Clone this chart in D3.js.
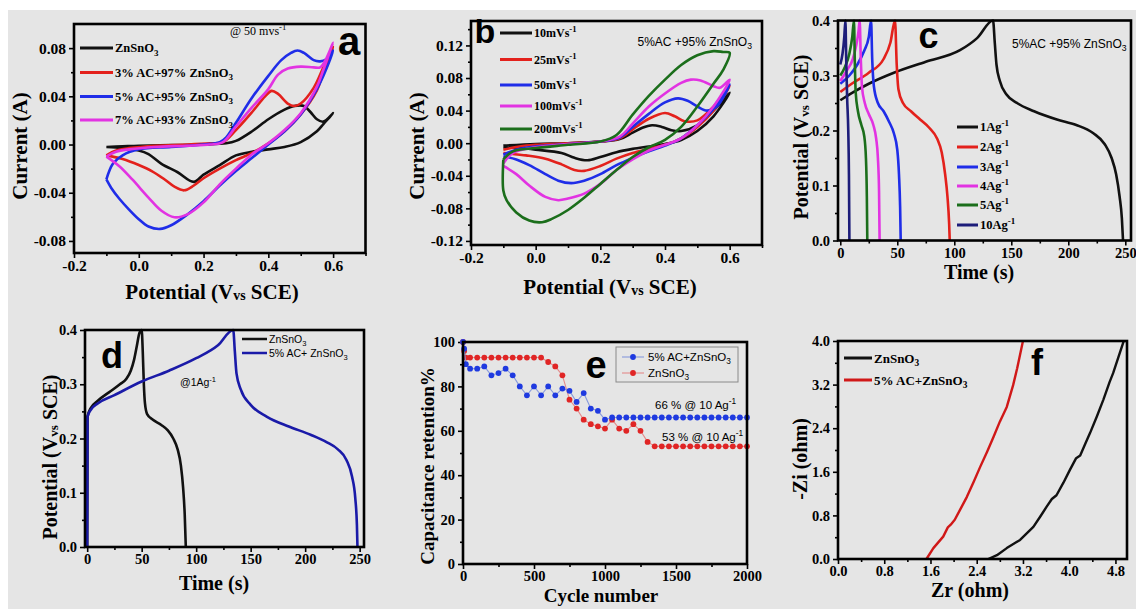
<!DOCTYPE html>
<html>
<head>
<meta charset="utf-8">
<script src="https://cdn.jsdelivr.net/npm/d3@7"></script>
<style>
  html, body { margin: 0; padding: 0; background: #fff; }
  svg { display: block; }
</style>
</head>
<body>
<script>
// ---------------------------------------------------------------
// (a) CV loops at 50 mV/s, [potential V, current A]
// ---------------------------------------------------------------
const cvA_labels = ["ZnSnO_{3}", "3% AC+97% ZnSnO_{3}", "5% AC+95% ZnSnO_{3}", "7% AC+93% ZnSnO_{3}"];
const cvA_ZnSnO3 = [
  [-0.1,-0.002],[-0.05,-0.0015],[0.0,-0.001],[0.1,-0.0005],[0.2,0.0],[0.27,0.001],[0.3,0.003],[0.35,0.011],
  [0.4,0.021],[0.45,0.029],[0.48,0.032],[0.51,0.032],[0.53,0.027],[0.55,0.021],[0.57,0.019],[0.6,0.026],
  [0.57,0.017],[0.55,0.011],[0.5,0.002],[0.45,-0.002],[0.4,-0.004],[0.35,-0.006],[0.3,-0.009],[0.25,-0.017],
  [0.2,-0.025],[0.17,-0.031],[0.12,-0.023],[0.07,-0.016],[0.03,-0.008],[0.0,-0.005],[-0.05,-0.003],[-0.1,-0.002]
];
const cvA_3AC = [
  [-0.1,-0.009],[-0.07,-0.005],[-0.03,-0.003],[0.05,-0.001],[0.15,0.0],[0.22,0.001],[0.26,0.002],[0.3,0.012],
  [0.35,0.027],[0.39,0.04],[0.41,0.0445],[0.43,0.042],[0.46,0.034],[0.48,0.032],[0.5,0.034],[0.54,0.047],
  [0.57,0.064],[0.6,0.081],
  [0.57,0.06],[0.55,0.045],[0.5,0.025],[0.45,0.011],[0.4,0.001],[0.35,-0.007],[0.3,-0.013],[0.25,-0.02],
  [0.2,-0.028],[0.17,-0.034],[0.14,-0.038],[0.11,-0.035],[0.08,-0.029],[0.04,-0.022],[0.0,-0.017],
  [-0.05,-0.012],[-0.1,-0.009]
];
const cvA_5AC = [
  [-0.1,-0.029],[-0.08,-0.016],[-0.05,-0.009],[0.0,-0.004],[0.1,-0.002],[0.2,0.0],[0.25,0.002],[0.27,0.006],
  [0.3,0.018],[0.35,0.039],[0.4,0.057],[0.44,0.07],[0.47,0.076],[0.49,0.078],[0.51,0.076],[0.54,0.07],
  [0.56,0.069],[0.58,0.071],[0.6,0.078],
  [0.57,0.057],[0.55,0.046],[0.5,0.025],[0.45,0.011],[0.4,0.0],[0.35,-0.011],[0.3,-0.022],[0.25,-0.034],
  [0.2,-0.047],[0.15,-0.058],[0.1,-0.067],[0.066,-0.070],[0.03,-0.068],[0.0,-0.062],[-0.03,-0.054],
  [-0.06,-0.045],[-0.085,-0.036],[-0.1,-0.029]
];
const cvA_7AC = [
  [-0.1,-0.01],[-0.07,-0.006],[-0.03,-0.004],[0.05,-0.002],[0.15,-0.001],[0.22,0.0],[0.26,0.002],[0.3,0.015],
  [0.35,0.031],[0.4,0.046],[0.43,0.058],[0.46,0.063],[0.5,0.0646],[0.54,0.064],[0.56,0.064],[0.58,0.072],
  [0.6,0.0845],
  [0.57,0.062],[0.55,0.048],[0.5,0.026],[0.45,0.012],[0.4,0.001],[0.35,-0.008],[0.3,-0.02],[0.25,-0.033],
  [0.2,-0.048],[0.15,-0.058],[0.11,-0.0604],[0.07,-0.055],[0.03,-0.044],[-0.02,-0.029],[-0.06,-0.018],[-0.1,-0.01]
];

// ---------------------------------------------------------------
// (b) CV of 5% AC + 95% ZnSnO3 at several scan rates
// ---------------------------------------------------------------
const cvB_labels = ["10mVs^{-1}", "25mVs^{-1}", "50mVs^{-1}", "100mVs^{-1}", "200mVs^{-1}"];
const cvB_10 = [
  [-0.1,-0.003],[0.0,-0.001],[0.1,0.0],[0.2,0.002],[0.26,0.005],[0.3,0.013],[0.33,0.019],[0.36,0.022],
  [0.39,0.02],[0.42,0.016],[0.45,0.015],[0.5,0.022],[0.55,0.04],[0.6,0.062],
  [0.55,0.033],[0.5,0.015],[0.45,0.004],[0.4,-0.001],[0.35,-0.004],[0.3,-0.007],[0.25,-0.011],[0.2,-0.017],
  [0.16,-0.021],[0.12,-0.018],[0.08,-0.012],[0.0,-0.008],[-0.05,-0.006],[-0.1,-0.005]
];
const cvB_25 = [
  [-0.1,-0.008],[-0.05,-0.004],[0.0,-0.002],[0.1,0.0],[0.2,0.002],[0.26,0.006],[0.3,0.017],[0.35,0.03],
  [0.4,0.037],[0.43,0.033],[0.46,0.027],[0.5,0.028],[0.55,0.045],[0.6,0.07],
  [0.55,0.04],[0.5,0.02],[0.45,0.006],[0.4,-0.002],[0.35,-0.007],[0.3,-0.012],[0.25,-0.019],[0.2,-0.028],
  [0.15,-0.034],[0.12,-0.033],[0.08,-0.026],[0.03,-0.019],[-0.03,-0.015],[-0.1,-0.012]
];
const cvB_50 = [
  [-0.1,-0.014],[-0.05,-0.007],[0.0,-0.004],[0.1,-0.001],[0.2,0.002],[0.26,0.007],[0.3,0.02],[0.35,0.036],
  [0.4,0.05],[0.44,0.055],[0.47,0.052],[0.5,0.045],[0.53,0.04],[0.56,0.045],[0.6,0.072],
  [0.55,0.042],[0.5,0.022],[0.45,0.006],[0.4,-0.003],[0.35,-0.01],[0.3,-0.018],[0.25,-0.027],[0.2,-0.038],
  [0.15,-0.046],[0.11,-0.049],[0.07,-0.046],[0.03,-0.038],[-0.02,-0.027],[-0.06,-0.02],[-0.1,-0.016]
];
const cvB_100 = [
  [-0.1,-0.025],[-0.07,-0.012],[0.0,-0.005],[0.1,-0.001],[0.2,0.002],[0.26,0.008],[0.3,0.024],[0.35,0.045],
  [0.4,0.061],[0.45,0.074],[0.48,0.078],[0.51,0.077],[0.55,0.07],[0.57,0.068],[0.6,0.078],
  [0.55,0.045],[0.5,0.022],[0.45,0.006],[0.4,-0.002],[0.35,-0.009],[0.3,-0.02],[0.25,-0.033],[0.2,-0.05],
  [0.15,-0.062],[0.1,-0.068],[0.07,-0.07],[0.03,-0.066],[-0.02,-0.052],[-0.06,-0.038],[-0.1,-0.028]
];
const cvB_200 = [
  [-0.1,-0.02],[-0.07,-0.01],[0.0,-0.006],[0.1,-0.002],[0.2,0.002],[0.25,0.01],[0.3,0.035],[0.35,0.058],
  [0.4,0.078],[0.45,0.096],[0.5,0.108],[0.55,0.113],[0.58,0.112],[0.6,0.111],
  [0.58,0.09],[0.55,0.073],[0.5,0.045],[0.45,0.02],[0.4,0.004],[0.35,-0.005],[0.3,-0.017],[0.25,-0.033],
  [0.2,-0.05],[0.15,-0.067],[0.1,-0.082],[0.05,-0.093],[0.02,-0.097],[-0.02,-0.095],[-0.06,-0.085],
  [-0.09,-0.07],[-0.1,-0.058],[-0.1,-0.02]
];

// ---------------------------------------------------------------
// (c) charge/discharge at several current densities, [time s, potential V]
// ---------------------------------------------------------------
const gcdC_labels = ["1Ag^{-1}", "2Ag^{-1}", "3Ag^{-1}", "4Ag^{-1}", "5Ag^{-1}", "10Ag^{-1}"];
const gcdC_1 = [[0,0.255],[10,0.268],[25,0.285],[47,0.305],[75,0.325],[105,0.346],[120,0.368],[134,0.4],
  [135.5,0.36],[137,0.32],[140,0.29],[146,0.265],[155,0.25],[170,0.235],[190,0.22],[207,0.21],[222,0.195],
  [232,0.175],[238,0.15],[242,0.12],[245,0.08],[247,0.04],[248,0]];
const gcdC_2 = [[0,0.27],[10,0.285],[25,0.305],[38,0.33],[44,0.36],[48,0.4],[49.5,0.32],[51,0.275],
  [55,0.25],[62,0.235],[70,0.22],[78,0.205],[85,0.185],[89,0.16],[92,0.12],[94,0.08],[95.5,0.03],[96,0]];
const gcdC_3 = [[0,0.285],[8,0.3],[15,0.32],[21,0.345],[25,0.37],[27,0.4],[28,0.33],[29.5,0.28],[33,0.25],
  [38,0.235],[43,0.215],[47,0.195],[50,0.165],[51.5,0.12],[52.5,0.06],[53,0]];
const gcdC_4 = [[0,0.29],[6,0.31],[11,0.33],[14,0.355],[16,0.38],[17,0.4],[18,0.33],[19,0.28],[21.5,0.25],
  [25,0.23],[29,0.21],[31.5,0.185],[33,0.15],[34,0.09],[34.5,0]];
const gcdC_5 = [[0,0.3],[4,0.315],[8,0.34],[10.5,0.37],[12,0.4],[12.8,0.32],[13.5,0.27],[15.5,0.235],
  [18.5,0.21],[21,0.19],[22.5,0.15],[23.3,0.08],[23.7,0]];
const gcdC_10 = [[0,0.32],[2,0.34],[3.5,0.37],[4.5,0.4],[5.2,0.33],[6,0.26],[7,0.2],[7.6,0.12],[8,0]];

// ---------------------------------------------------------------
// (d) charge/discharge at 1 A/g
// ---------------------------------------------------------------
const gcdD_labels = ["ZnSnO_{3}", "5% AC+ ZnSnO_{3}"];
const gcdD_ZnSnO3 = [[0,0],[0.3,0.24],[3,0.255],[10,0.27],[20,0.285],[30,0.3],[36,0.31],[40,0.325],
  [43,0.345],[45.5,0.37],[48,0.395],[50,0.4],[51,0.36],[52,0.3],[53,0.265],[55,0.245],[60,0.235],[68,0.225],
  [74,0.215],[79,0.2],[83,0.18],[86,0.15],[88,0.11],[89.5,0.06],[90.5,0]];
const gcdD_5AC = [[0,0],[0.3,0.24],[3,0.252],[10,0.265],[25,0.28],[50,0.305],[75,0.325],[100,0.348],
  [120,0.372],[134,0.4],[135.5,0.36],[137,0.32],[141,0.29],[150,0.262],[165,0.24],[185,0.222],[205,0.207],
  [220,0.193],[230,0.18],[238,0.16],[243,0.13],[246,0.09],[247.5,0.04],[248,0]];

// ---------------------------------------------------------------
// (e) capacitance retention vs cycle number
// ---------------------------------------------------------------
const retLabels = ["5% AC+ZnSnO_{3}", "ZnSnO_{3}"];
const retCycles = [0,8,20,50,100,150,200,250,300,350,400,450,500,550,600,650,700,750,800,850,900,950,1000,
  1050,1100,1150,1200,1250,1300,1350,1400,1450,1500,1550,1600,1650,1700,1750,1800,1850,1900,1950,2000];
const retAC = [100,97,90,88,88,89,85,86,88,85,80,76,80,76,80,76,79,78,73,77,70,69,65,
  66,66,66,66,66,66,66,66,66,66,66,66,66,66,66,66,66,66,66,66];
const retZn = [100,96,93,93,93,93,93,93,93,93,93,93,93,93,91,89,85,74,70,65,63,62,61,
  65,61,60,63,60,55,53,53,53,53,53,53,53,53,53,53,53,53,53,53];

// ---------------------------------------------------------------
// (f) Nyquist plots, [Zr ohm, -Zi ohm]
// ---------------------------------------------------------------
const eisLabels = ["ZnSnO_{3}", "5% AC+ZnSnO_{3}"];
const eisZnSnO3 = [[2.6,0],[2.75,0.07],[2.92,0.2],[3.15,0.35],[3.38,0.59],[3.5,0.78],[3.61,0.96],[3.7,1.1],
  [3.78,1.17],[3.9,1.4],[4.01,1.63],[4.12,1.85],[4.19,1.9],[4.28,2.12],[4.36,2.31],[4.48,2.62],[4.59,2.92],
  [4.7,3.25],[4.76,3.41],[4.85,3.7],[4.94,3.99]];
const eis5AC = [[1.53,0],[1.65,0.2],[1.82,0.41],[1.9,0.58],[1.95,0.63],[2.02,0.72],[2.12,0.92],[2.23,1.14],
  [2.35,1.42],[2.46,1.69],[2.58,1.97],[2.69,2.24],[2.8,2.52],[2.92,2.79],[3.03,3.19],[3.1,3.5],[3.2,4.0]];

// ---------------------------------------------------------------
// drawing
// ---------------------------------------------------------------
const W = 1136, H = 609;
const SERIF = "'Liberation Serif', 'Times New Roman', serif";
const SANS = "'Liberation Sans', Arial, sans-serif";
const C = {
  black: "#111111", red: "#e3211c", blue: "#1f2de8", magenta: "#e233e2",
  green: "#1b6e1b", navy: "#1d1d7a", dblue: "#1a1aa8"
};
const hyphenLocale = d3.formatLocale({decimal: ".", thousands: ",", grouping: [3], currency: ["", ""], minus: "-"});
const fmt = s => hyphenLocale.format(s);

const svg = d3.select("body").append("svg").attr("width", W).attr("height", H);
svg.append("rect").attr("x", 0).attr("y", 0).attr("width", W).attr("height", H).attr("fill", "#ffffff");
svg.append("rect").attr("x", 8).attr("y", 10).attr("width", W - 8).attr("height", H - 10).attr("fill", "#e5e5e5");

// text with _{sub}, ^{sup} and ~{small} runs
function rich(sel, str, fs) {
  const parts = str.split(/(_\{[^}]*\}|\^\{[^}]*\}|~\{[^}]*\})/).filter(s => s.length);
  let shift = 0;
  parts.forEach(p => {
    let t = p, sz = fs, s = 0;
    if (p.startsWith("_{")) { t = p.slice(2, -1); sz = fs * 0.72; s = fs * 0.28; }
    else if (p.startsWith("^{")) { t = p.slice(2, -1); sz = fs * 0.72; s = -fs * 0.42; }
    else if (p.startsWith("~{")) { t = p.slice(2, -1); sz = fs * 0.66; s = fs * 0.06; }
    sel.append("tspan").attr("font-size", sz).attr("dy", s - shift).text(t);
    shift = s;
  });
  return sel;
}

function label(g, str, x, y, o) {
  const t = g.append("text").attr("x", x).attr("y", y)
    .attr("font-family", o.family || SERIF).attr("font-weight", o.weight || "bold")
    .attr("font-size", o.size).attr("fill", o.fill || "#000")
    .attr("text-anchor", o.anchor || "start");
  if (o.rotate) t.attr("transform", `rotate(-90,${x},${y})`);
  return rich(t, str, o.size);
}

function panel(cfg) {
  const b = cfg.box;
  const x = d3.scaleLinear().domain(cfg.xDomain).range([b.left, b.right]);
  const y = d3.scaleLinear().domain(cfg.yDomain).range([b.bottom, b.top]);
  const g = svg.append("g");
  const styleAxis = sel => {
    sel.select(".domain").remove();
    sel.selectAll("line").attr("stroke", "#000").attr("stroke-width", 1.6);
    sel.selectAll("text").attr("font-family", SERIF).attr("font-weight", "bold")
      .attr("font-size", cfg.tickSize).attr("fill", "#000");
  };
  g.append("g").attr("transform", `translate(0,${b.bottom})`)
    .call(d3.axisBottom(x).tickValues(cfg.xMinor).tickSize(3).tickFormat("")).call(styleAxis);
  g.append("g").attr("transform", `translate(0,${b.bottom})`)
    .call(d3.axisBottom(x).tickValues(cfg.xMajor).tickSize(5).tickPadding(2).tickFormat(fmt(cfg.xFmt)))
    .call(styleAxis);
  g.append("g").attr("transform", `translate(${b.left},0)`)
    .call(d3.axisLeft(y).tickValues(cfg.yMinor).tickSize(3).tickFormat("")).call(styleAxis);
  g.append("g").attr("transform", `translate(${b.left},0)`)
    .call(d3.axisLeft(y).tickValues(cfg.yMajor).tickSize(5).tickPadding(3).tickFormat(fmt(cfg.yFmt)))
    .call(styleAxis);
  const data = g.append("g");
  const frame = () => g.append("rect").attr("x", b.left).attr("y", b.top)
    .attr("width", b.right - b.left).attr("height", b.bottom - b.top)
    .attr("fill", "none").attr("stroke", "#000").attr("stroke-width", 2.6);
  label(g, cfg.xTitle, cfg.xTitlePos[0], cfg.xTitlePos[1], {size: cfg.titleSize, anchor: "middle"});
  label(g, cfg.yTitle, cfg.yTitlePos[0], cfg.yTitlePos[1], {size: cfg.titleSize, anchor: "middle", rotate: true});
  return {x, y, g, data, frame};
}

function curve(p, pts, color, width, kind) {
  const gen = d3.line().x(d => p.x(d[0])).y(d => p.y(d[1])).curve(kind || d3.curveCatmullRom.alpha(0.5));
  p.data.append("path").attr("d", gen(pts)).attr("fill", "none")
    .attr("stroke", color).attr("stroke-width", width).attr("stroke-linejoin", "round");
}

function legendLines(g, labels, colors, x0, x1, ys, o) {
  labels.forEach((lab, i) => {
    g.append("line").attr("x1", x0).attr("x2", x1).attr("y1", ys[i]).attr("y2", ys[i])
      .attr("stroke", colors[i]).attr("stroke-width", o.lw || 3);
    label(g, lab, x1 + 2, ys[i] + o.size * 0.35, {size: o.size, family: o.family, weight: o.weight});
  });
}

// ---- (a)
const pa = panel({
  box: {left: 74, right: 365.5, top: 24, bottom: 253},
  xDomain: [-0.2, 0.7], yDomain: [-0.09, 0.1],
  xMajor: [-0.2, 0, 0.2, 0.4, 0.6], xMinor: [-0.1, 0.1, 0.3, 0.5, 0.7], xFmt: ".1f",
  yMajor: [-0.08, -0.04, 0, 0.04, 0.08], yMinor: [-0.06, -0.02, 0.02, 0.06], yFmt: ".2f",
  tickSize: 15.5, titleSize: 21,
  xTitle: "Potential (V~{vs} SCE)", xTitlePos: [212, 299],
  yTitle: "Current (A)", yTitlePos: [27, 146]
});
const aColors = [C.black, C.red, C.blue, C.magenta];
[cvA_ZnSnO3, cvA_3AC, cvA_5AC, cvA_7AC].forEach((d, i) => curve(pa, d, aColors[i], 2.6));
pa.frame();
legendLines(pa.g, cvA_labels, aColors, 80, 113, [48, 72.5, 96.5, 120], {size: 12.5});
label(pa.g, "@ 50 mvs^{-1}", 230, 35, {size: 12, weight: "normal"});
label(pa.g, "a", 349, 55, {size: 40, family: SANS, anchor: "middle"});

// ---- (b)
const pb = panel({
  box: {left: 471, right: 762, top: 21, bottom: 245},
  xDomain: [-0.2, 0.7], yDomain: [-0.125, 0.15],
  xMajor: [-0.2, 0, 0.2, 0.4, 0.6], xMinor: [-0.1, 0.1, 0.3, 0.5, 0.7], xFmt: ".1f",
  yMajor: [-0.12, -0.08, -0.04, 0, 0.04, 0.08, 0.12], yMinor: [-0.1, -0.06, -0.02, 0.02, 0.06, 0.1, 0.14], yFmt: ".2f",
  tickSize: 15.5, titleSize: 21,
  xTitle: "Potential (V~{vs} SCE)", xTitlePos: [610, 294],
  yTitle: "Current (A)", yTitlePos: [424, 146]
});
const bColors = [C.black, C.red, C.blue, C.magenta, C.green];
[cvB_10, cvB_25, cvB_50, cvB_100, cvB_200].forEach((d, i) => curve(pb, d, bColors[i], 2.6));
pb.frame();
legendLines(pb.g, cvB_labels, bColors, 500, 532, [33, 59.5, 85, 106, 129], {size: 12});
label(pb.g, "5%AC +95% ZnSnO_{3}", 752, 46, {size: 12, family: SANS, weight: "normal", anchor: "end"});
label(pb.g, "b", 485, 43, {size: 34, family: SANS, anchor: "middle"});

// ---- (c)
const pc = panel({
  box: {left: 838, right: 1131, top: 20.5, bottom: 240.5},
  xDomain: [-2, 255], yDomain: [0, 0.4],
  xMajor: [0, 50, 100, 150, 200, 250], xMinor: [25, 75, 125, 175, 225], xFmt: "d",
  yMajor: [0, 0.1, 0.2, 0.3, 0.4], yMinor: [0.05, 0.15, 0.25, 0.35], yFmt: ".1f",
  tickSize: 14.5, titleSize: 20,
  xTitle: "Time (s)", xTitlePos: [979, 279],
  yTitle: "Potential (V~{vs} SCE)", yTitlePos: [808, 137]
});
const cColors = [C.black, C.red, C.blue, C.magenta, C.green, C.navy];
[gcdC_1, gcdC_2, gcdC_3, gcdC_4, gcdC_5, gcdC_10].forEach((d, i) => curve(pc, d, cColors[i], 2.6, d3.curveMonotoneX));
pc.frame();
legendLines(pc.g, gcdC_labels, cColors, 957, 978, [127, 147, 167, 186, 205, 225], {size: 12.5});
label(pc.g, "5%AC +95% ZnSnO_{3}", 1012, 47.5, {size: 12, family: SANS, weight: "normal"});
label(pc.g, "c", 928.5, 48, {size: 36, family: SANS, anchor: "middle"});

// ---- (d)
const pd = panel({
  box: {left: 85, right: 364, top: 330, bottom: 547},
  xDomain: [-2, 254], yDomain: [0, 0.4],
  xMajor: [0, 50, 100, 150, 200, 250], xMinor: [25, 75, 125, 175, 225], xFmt: "d",
  yMajor: [0, 0.1, 0.2, 0.3, 0.4], yMinor: [0.05, 0.15, 0.25, 0.35], yFmt: ".1f",
  tickSize: 14.5, titleSize: 20,
  xTitle: "Time (s)", xTitlePos: [214, 590],
  yTitle: "Potential (V~{vs} SCE)", yTitlePos: [57, 457]
});
const dColors = [C.black, C.dblue];
[gcdD_ZnSnO3, gcdD_5AC].forEach((d, i) => curve(pd, d, dColors[i], 2.6, d3.curveMonotoneX));
pd.frame();
legendLines(pd.g, gcdD_labels, dColors, 242, 267, [339, 353], {size: 10.5, family: SANS, weight: "normal", lw: 2.5});
label(pd.g, "@1Ag^{-1}", 180, 386, {size: 10.5, family: SANS, weight: "normal"});
label(pd.g, "d", 112, 368, {size: 36, family: SANS, anchor: "middle"});

// ---- (e)
const pe = panel({
  box: {left: 463, right: 747, top: 342, bottom: 564},
  xDomain: [0, 2000], yDomain: [0, 100],
  xMajor: [0, 500, 1000, 1500, 2000], xMinor: [250, 750, 1250, 1750], xFmt: "d",
  yMajor: [0, 20, 40, 60, 80, 100], yMinor: [10, 30, 50, 70, 90], yFmt: "d",
  tickSize: 14.5, titleSize: 19,
  xTitle: "Cycle number", xTitlePos: [601, 602],
  yTitle: "Capacitance retention%", yTitlePos: [434, 466]
});
const eSeries = [
  {vals: retAC, dot: "#1f3ae0", line: "#8799dc"},
  {vals: retZn, dot: "#e02525", line: "#e48a8a"}
];
[eSeries[1], eSeries[0]].forEach(s => {
  const pts = retCycles.map((c, i) => [c, s.vals[i]]);
  curve(pe, pts, s.line, 1.1, d3.curveLinear);
  pe.data.selectAll(null).data(pts).enter().append("circle")
    .attr("cx", d => pe.x(d[0])).attr("cy", d => pe.y(d[1])).attr("r", 2.9).attr("fill", s.dot);
});
pe.frame();
pe.g.append("rect").attr("x", 616).attr("y", 347).attr("width", 122).attr("height", 35)
  .attr("fill", "none").attr("stroke", "#8a8a8a").attr("stroke-width", 1);
eSeries.forEach((s, i) => {
  const yy = 357 + i * 16;
  pe.g.append("line").attr("x1", 622).attr("x2", 644).attr("y1", yy).attr("y2", yy)
    .attr("stroke", s.line).attr("stroke-width", 1.1);
  pe.g.append("circle").attr("cx", 633).attr("cy", yy).attr("r", 2.9).attr("fill", s.dot);
  label(pe.g, retLabels[i], 648, yy + 4, {size: 11.5, family: SANS, weight: "normal"});
});
label(pe.g, "66 % @ 10 Ag^{-1}", 655, 409, {size: 11.5, family: SANS, weight: "normal"});
label(pe.g, "53 % @ 10 Ag^{-1}", 662, 441, {size: 11.5, family: SANS, weight: "normal"});
label(pe.g, "e", 596, 378, {size: 38, family: SANS, anchor: "middle"});

// ---- (f)
const pf = panel({
  box: {left: 838, right: 1127, top: 341, bottom: 559},
  xDomain: [0, 5], yDomain: [0, 4],
  xMajor: [0, 0.8, 1.6, 2.4, 3.2, 4.0, 4.8], xMinor: [0.4, 1.2, 2.0, 2.8, 3.6, 4.4], xFmt: ".1f",
  yMajor: [0, 0.8, 1.6, 2.4, 3.2, 4.0], yMinor: [0.4, 1.2, 2.0, 2.8, 3.6], yFmt: ".1f",
  tickSize: 14.5, titleSize: 20,
  xTitle: "Zr (ohm)", xTitlePos: [970, 597],
  yTitle: "-Zi (ohm)", yTitlePos: [807, 459]
});
const fColors = [C.black, "#d01818"];
[eisZnSnO3, eis5AC].forEach((d, i) => curve(pf, d, fColors[i], 2.4, d3.curveLinear));
pf.frame();
legendLines(pf.g, eisLabels, fColors, 844, 872, [358, 380], {size: 13});
label(pf.g, "f", 1037, 375, {size: 36, family: SANS, anchor: "middle"});
</script>
</body>
</html>
